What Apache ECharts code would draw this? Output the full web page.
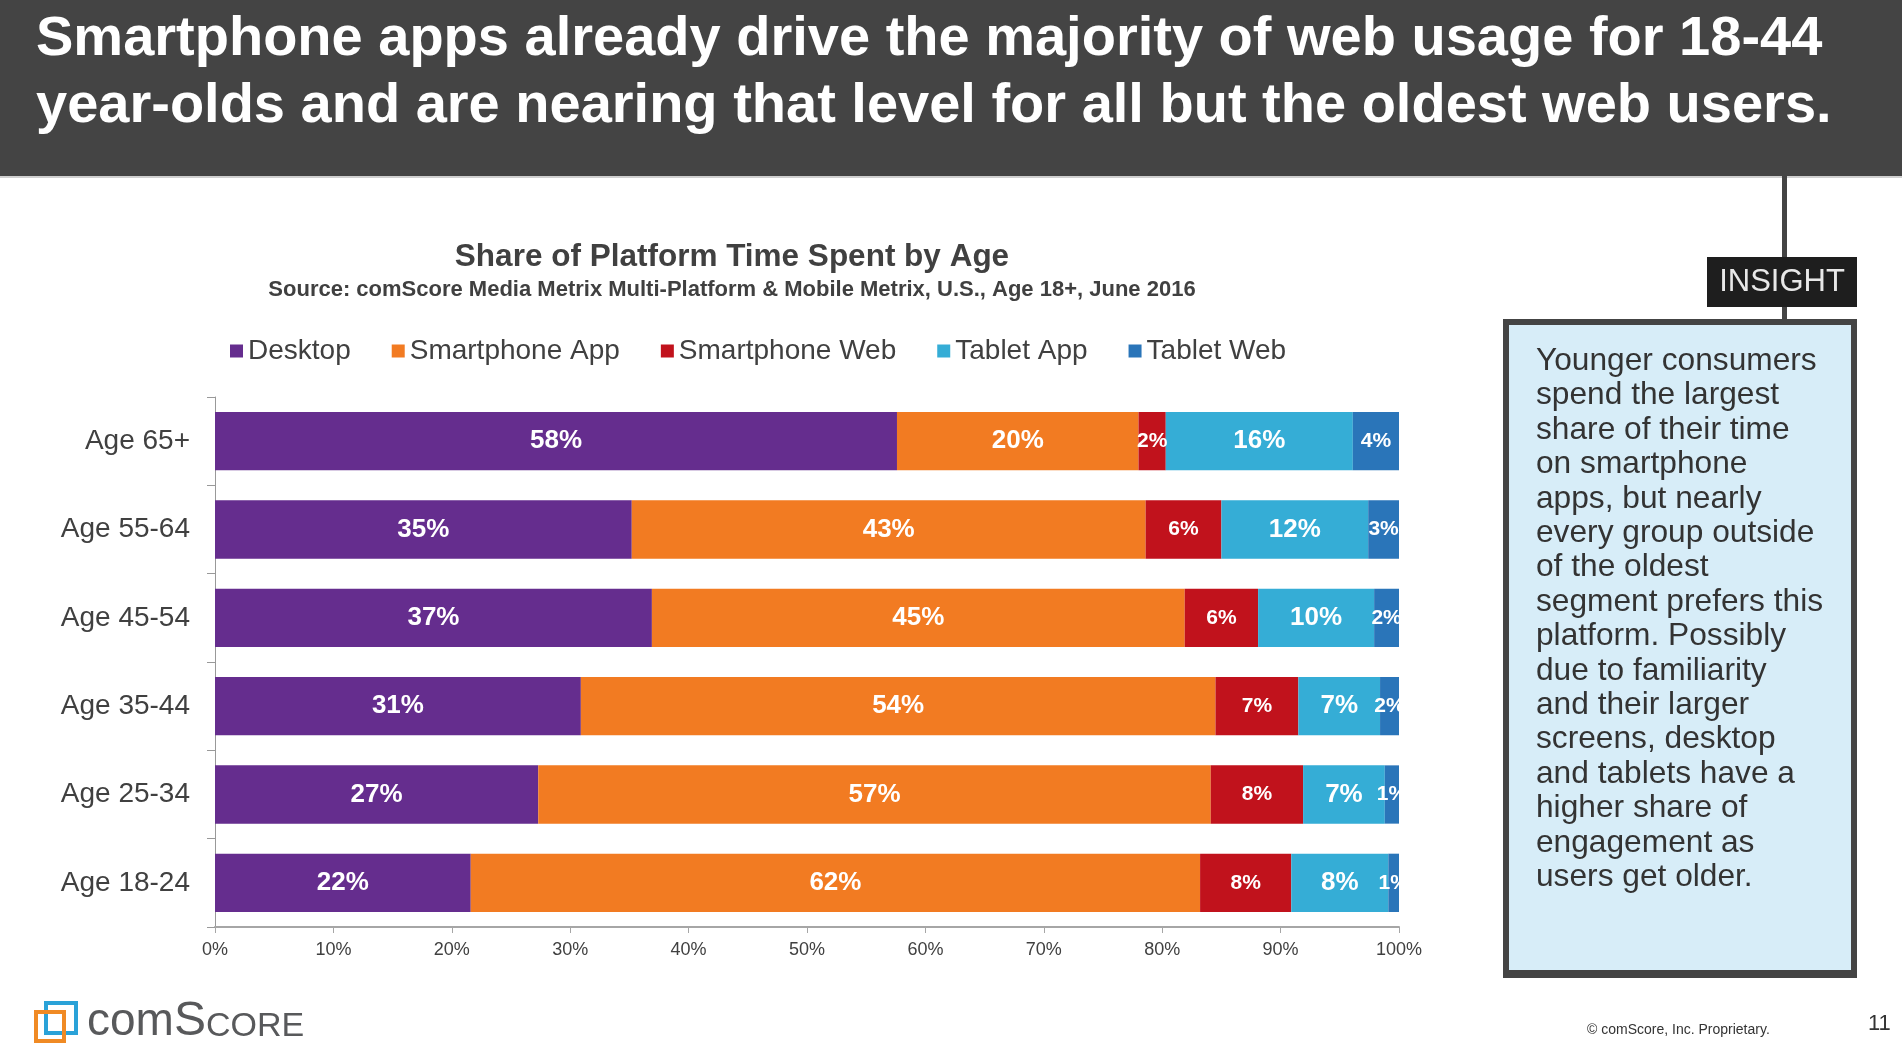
<!DOCTYPE html>
<html>
<head>
<meta charset="utf-8">
<script src="https://cdn.jsdelivr.net/npm/echarts@6/dist/echarts.min.js"></script>
<style>
html,body{margin:0;padding:0;background:#fff;}
#chart{width:1902px;height:1061px;}
</style>
</head>
<body>
<div id="chart"></div>
<script>
// ---- data ----
var categories = ['Age 18-24', 'Age 25-34', 'Age 35-44', 'Age 45-54', 'Age 55-64', 'Age 65+'];
var seriesNames = ['Desktop', 'Smartphone App', 'Smartphone Web', 'Tablet App', 'Tablet Web'];
var desktop       = [21.6, 27.3, 30.9, 36.9, 35.2, 57.6];
var smartphoneApp = [61.6, 56.8, 53.6, 45.0, 43.4, 20.4];
var smartphoneWeb = [7.7, 7.8, 7.0, 6.2, 6.4, 2.3];
var tabletApp     = [8.2, 6.9, 6.9, 9.8, 12.4, 15.8];
var tabletWeb     = [0.9, 1.2, 1.6, 2.1, 2.6, 3.9];
var xTicks = [0, 10, 20, 30, 40, 50, 60, 70, 80, 90, 100];

var headline1 = 'Smartphone apps already drive the majority of web usage for 18-44';
var headline2 = 'year-olds and are nearing that level for all but the oldest web users.';
var chartTitle = 'Share of Platform Time Spent by Age';
var chartSource = 'Source: comScore Media Metrix Multi-Platform & Mobile Metrix, U.S., Age 18+, June 2016';
var insightText = ['Younger consumers', 'spend the largest', 'share of their time', 'on smartphone',
  'apps, but nearly', 'every group outside', 'of the oldest', 'segment prefers this',
  'platform. Possibly', 'due to familiarity', 'and their larger', 'screens, desktop',
  'and tablets have a', 'higher share of', 'engagement as', 'users get older.'];

// ---- styling ----
var FONT = "'Liberation Sans', Arial, Helvetica, sans-serif";
var colors = ['#652d8e', '#f27b22', '#c1121c', '#35add6', '#2a75b9'];
var labelSizes = [26, 26, 21, 26, 21];
var allValues = [desktop, smartphoneApp, smartphoneWeb, tabletApp, tabletWeb];

var series = seriesNames.map(function (name, i) {
  return {
    name: name,
    type: 'bar',
    stack: 'total',
    barWidth: '66%',
    data: allValues[i],
    itemStyle: { color: colors[i] },
    emphasis: { disabled: true },
    label: {
      show: true,
      position: 'inside',
      color: '#ffffff',
      fontWeight: 'bold',
      fontFamily: FONT,
      fontSize: labelSizes[i],
      formatter: function (p) { return Math.round(p.value) + '%'; }
    }
  };
});

var chart = echarts.init(document.getElementById('chart'), null, { renderer: 'canvas' });

var graphics = [
  // header band
  { type: 'rect', z: -10, shape: { x: 0, y: 0, width: 1902, height: 176 }, style: { fill: '#444444' } },
  { type: 'rect', z: -10, shape: { x: 0, y: 176, width: 1902, height: 2 }, style: { fill: '#d0d0d0' } },
  { type: 'text', z: 10, x: 36, y: 39.6, style: { text: headline1, fill: '#ffffff', font: 'bold 56px ' + FONT, textAlign: 'left', textVerticalAlign: 'middle' } },
  { type: 'text', z: 10, x: 36, y: 106.6, style: { text: headline2, fill: '#ffffff', font: 'bold 56px ' + FONT, textAlign: 'left', textVerticalAlign: 'middle' } },
  // chart title
  { type: 'text', z: 10, x: 732, y: 257, style: { text: chartTitle, fill: '#404040', font: 'bold 31.5px ' + FONT, textAlign: 'center', textVerticalAlign: 'middle' } },
  { type: 'text', z: 10, x: 732, y: 289.5, style: { text: chartSource, fill: '#404040', font: 'bold 22px ' + FONT, textAlign: 'center', textVerticalAlign: 'middle' } },
  // clip overflow of labels to the right of 100%
  { type: 'rect', z: 100, shape: { x: 1400, y: 396, width: 90, height: 530 }, style: { fill: '#ffffff' } },
  // insight connector line
  { type: 'rect', z: 5, shape: { x: 1782, y: 176, width: 5, height: 146 }, style: { fill: '#444444' } },
  // insight box
  { type: 'rect', z: 5, shape: { x: 1503, y: 319, width: 354, height: 659 }, style: { fill: '#444444' } },
  { type: 'rect', z: 6, shape: { x: 1509, y: 325, width: 342, height: 645 }, style: { fill: '#d7edf8' } },
  { type: 'text', z: 7, x: 1536, y: 344.1, style: { text: insightText.join('\n'), fill: '#333333', font: '31.7px ' + FONT, lineHeight: 34.4, textAlign: 'left', textVerticalAlign: 'top' } },
  // INSIGHT tag
  { type: 'rect', z: 8, shape: { x: 1707, y: 257, width: 150, height: 50 }, style: { fill: '#1e1e1e' } },
  { type: 'text', z: 9, x: 1782, y: 282, style: { text: 'INSIGHT', fill: '#e8e8e8', font: '31px ' + FONT, textAlign: 'center', textVerticalAlign: 'middle' } },
  // logo
  { type: 'rect', z: 5, shape: { x: 46, y: 1003, width: 30, height: 30 }, style: { fill: 'none', stroke: '#2aa2d8', lineWidth: 4 } },
  { type: 'rect', z: 6, shape: { x: 36, y: 1012, width: 28, height: 29 }, style: { fill: 'none', stroke: '#f08a24', lineWidth: 4 } },
  { type: 'text', z: 5, x: 87, y: 1022, style: { text: 'com', fill: '#58595b', font: '46px ' + FONT, textAlign: 'left', textVerticalAlign: 'middle' } },
  { type: 'text', z: 5, x: 174, y: 1021.4, style: { text: 'S', fill: '#58595b', font: '48px ' + FONT, textAlign: 'left', textVerticalAlign: 'middle' } },
  { type: 'text', z: 5, x: 206, y: 1026.2, style: { text: 'CORE', fill: '#58595b', font: '34px ' + FONT, textAlign: 'left', textVerticalAlign: 'middle' } },
  // footer
  { type: 'text', z: 5, x: 1587, y: 1030, style: { text: '\u00a9 comScore, Inc. Proprietary.', fill: '#333333', font: '14px ' + FONT, textAlign: 'left', textVerticalAlign: 'middle' } },
  { type: 'text', z: 5, x: 1868, y: 1024, style: { text: '11', fill: '#333333', font: '22px ' + FONT, textAlign: 'left', textVerticalAlign: 'middle' } }
];

var option = {
  backgroundColor: '#ffffff',
  animation: false,
  color: colors,
  textStyle: { fontFamily: FONT },
  legend: {
    data: seriesNames,
    left: 230,
    top: 337,
    padding: 0,
    icon: 'rect',
    itemWidth: 13,
    itemHeight: 13,
    itemGap: 41,
    selectedMode: false,
    textStyle: { fontSize: 28, color: '#404040', fontFamily: FONT }
  },
  grid: { left: 215, right: 503, top: 397, height: 530, containLabel: false },
  xAxis: {
    type: 'value',
    min: xTicks[0],
    max: xTicks[xTicks.length - 1],
    interval: 10,
    splitLine: { show: false },
    axisLine: { show: true, lineStyle: { color: '#a6a6a6', width: 2 } },
    axisTick: { show: true, length: 6, lineStyle: { color: '#a6a6a6' } },
    axisLabel: { formatter: '{value}%', fontSize: 18, color: '#404040', margin: 14, fontFamily: FONT }
  },
  yAxis: {
    type: 'category',
    data: categories,
    axisLine: { show: true, lineStyle: { color: '#999999', width: 1 } },
    axisTick: { show: true, length: 8, lineStyle: { color: '#999999' } },
    axisLabel: { fontSize: 28, color: '#404040', margin: 25, fontFamily: FONT }
  },
  series: series,
  graphic: { elements: graphics }
};
chart.setOption(option);
</script>
</body>
</html>
